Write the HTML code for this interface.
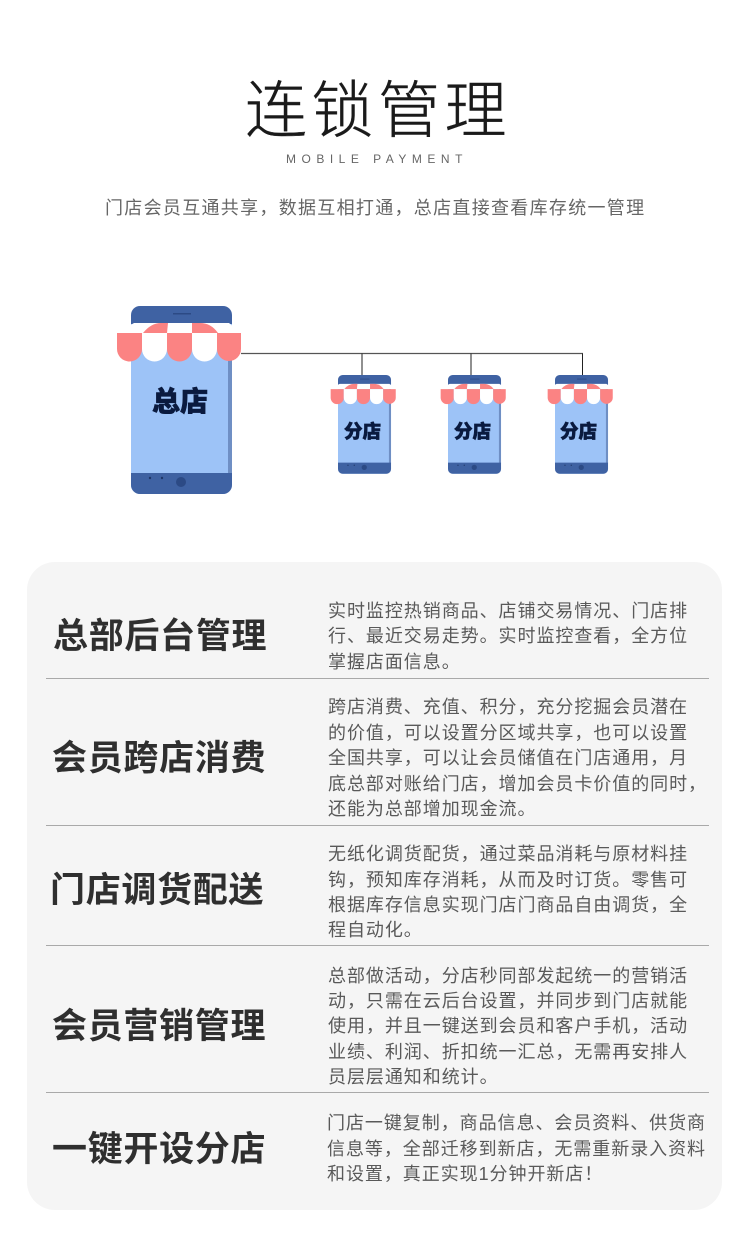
<!DOCTYPE html>
<html lang="zh">
<head>
<meta charset="utf-8">
<style>
html,body{margin:0;padding:0;background:#fff}
#p{position:relative;width:750px;height:1258px;overflow:hidden;background:#fff;font-family:"Liberation Sans","Noto Sans CJK SC",sans-serif}
#p div{position:absolute;white-space:nowrap}
.card{left:27px;top:562px;width:695px;height:648px;border-radius:28px;background:#f5f5f5}
.hr{left:46px;width:663px;height:1px;background:#a9a9a9}
.h{font-size:35px;font-weight:700;color:#2f2f2f;line-height:40px;letter-spacing:.7px}
.t{font-size:18px;color:#595959;line-height:26px;letter-spacing:.95px;left:328px}
.s{font-weight:900;color:#0a1a3f;-webkit-text-stroke:.6px #0a1a3f}
svg{position:absolute;left:0;top:0}
</style>
</head>
<body>
<div id="p">
<div style="left:245px;top:72px;font-size:62px;line-height:80px;color:#1a1a1a;letter-spacing:4.5px;font-weight:300;-webkit-text-stroke:.4px #1a1a1a">连锁管理</div>
<div style="left:286px;top:151px;font-size:12px;line-height:16px;color:#666;letter-spacing:5.5px">MOBILE PAYMENT</div>
<div style="left:105px;top:195px;font-size:18px;line-height:26px;color:#666;letter-spacing:1.3px">门店会员互通共享，数据互相打通，总店直接查看库存统一管理</div>

<svg width="750" height="1258" viewBox="0 0 750 1258">
<defs>
<g id="shop">
<path d="M0 15H101V179a9 9 0 0 1-9 9H9a9 9 0 0 1-9-9z" fill="#9dc3f7"/>
<path d="M97 24h4v145h-4z" fill="#6f8fc4"/>
<path d="M0 9a9 9 0 0 1 9-9h83a9 9 0 0 1 9 9v9H0z" fill="#3f62a3"/>
<path d="M0 167h101v12a9 9 0 0 1-9 9H9a9 9 0 0 1-9-9z" fill="#3f62a3"/>
<rect x="42" y="7" width="18" height="1.500" fill="#2c4a85"/>
<circle cx="50" cy="176" r="5" fill="#2c4a85"/>
<circle cx="19" cy="172" r="1.200" fill="#1f3768"/><circle cx="31" cy="172" r="1.200" fill="#1f3768"/>
<path d="M3 17H98L110 27H-14z" fill="#fff"/>
<path d="M12 27Q20 17 30 17H37L36 27z" fill="#fb8383"/>
<path d="M61 27L61 17H69Q80 17 87 27z" fill="#fb8383"/>
<path d="M-14 27h25v16a12.500 12.500 0 0 1-25 0z" fill="#fb8383"/>
<path d="M11 27h25v16a12.500 12.500 0 0 1-25 0z" fill="#fff"/>
<path d="M36 27h25v16a12.500 12.500 0 0 1-25 0z" fill="#fb8383"/>
<path d="M61 27h25v16a12.500 12.500 0 0 1-25 0z" fill="#fff"/>
<path d="M86 27h24v16a12 12 0 0 1-24 0z" fill="#fb8383"/>
</g>
</defs>
<path d="M241 353.500H583" stroke="#555" stroke-width="1.200" fill="none"/>
<path d="M362 353.500V376M471 353.500V376M582.500 353.500V376" stroke="#222" stroke-width="1" fill="none"/>
<use href="#shop" transform="translate(131,306)"/>
<use href="#shop" transform="translate(338,375) scale(.525)"/>
<use href="#shop" transform="translate(448,375) scale(.525)"/>
<use href="#shop" transform="translate(555,375) scale(.525)"/>
</svg>
<div class="s" style="left:152px;top:384px;font-size:28px;line-height:36px">总店</div>
<div class="s" style="left:344px;top:420px;font-size:18.500px;line-height:24px">分店</div>
<div class="s" style="left:454px;top:420px;font-size:18.500px;line-height:24px">分店</div>
<div class="s" style="left:560px;top:420px;font-size:18.500px;line-height:24px">分店</div>

<div class="card"></div>
<div class="hr" style="top:678px"></div>
<div class="hr" style="top:825px"></div>
<div class="hr" style="top:945px"></div>
<div class="hr" style="top:1092px"></div>

<div class="h" style="left:53px;top:617px">总部后台管理</div>
<div class="h" style="left:52px;top:739px">会员跨店消费</div>
<div class="h" style="left:50px;top:871px">门店调货配送</div>
<div class="h" style="left:52px;top:1007px">会员营销管理</div>
<div class="h" style="left:52px;top:1130px">一键开设分店</div>

<div class="t" style="top:598px">实时监控热销商品、店铺交易情况、门店排</div>
<div class="t" style="top:623px">行、最近交易走势。实时监控查看，全方位</div>
<div class="t" style="top:649px">掌握店面信息。</div>

<div class="t" style="top:694px">跨店消费、充值、积分，充分挖掘会员潜在</div>
<div class="t" style="top:720px">的价值，可以设置分区域共享，也可以设置</div>
<div class="t" style="top:745px">全国共享，可以让会员储值在门店通用，月</div>
<div class="t" style="top:771px">底总部对账给门店，增加会员卡价值的同时，</div>
<div class="t" style="top:796px">还能为总部增加现金流。</div>

<div class="t" style="top:841px">无纸化调货配货，通过菜品消耗与原材料挂</div>
<div class="t" style="top:867px">钩，预知库存消耗，从而及时订货。零售可</div>
<div class="t" style="top:892px">根据库存信息实现门店门商品自由调货，全</div>
<div class="t" style="top:917px">程自动化。</div>

<div class="t" style="top:963px">总部做活动，分店秒同部发起统一的营销活</div>
<div class="t" style="top:988px">动，只需在云后台设置，并同步到门店就能</div>
<div class="t" style="top:1013px">使用，并且一键送到会员和客户手机，活动</div>
<div class="t" style="top:1039px">业绩、利润、折扣统一汇总，无需再安排人</div>
<div class="t" style="top:1064px">员层层通知和统计。</div>

<div class="t" style="left:327px;top:1110px">门店一键复制，商品信息、会员资料、供货商</div>
<div class="t" style="left:327px;top:1136px">信息等，全部迁移到新店，无需重新录入资料</div>
<div class="t" style="left:327px;top:1161px">和设置，真正实现1分钟开新店！</div>
</div>
</body>
</html>
